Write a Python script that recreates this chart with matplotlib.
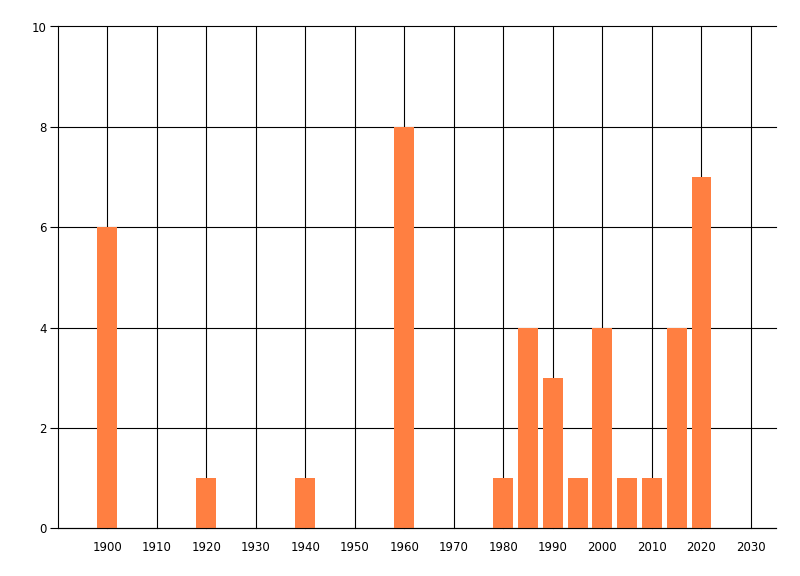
import matplotlib
matplotlib.use("Agg")
import matplotlib.pyplot as plt

years = [1900, 1920, 1940, 1960, 1980, 1985, 1990, 1995, 2000, 2005, 2010, 2015, 2020]
counts = [6, 1, 1, 8, 1, 4, 3, 1, 4, 1, 1, 4, 7]
x_ticks = list(range(1900, 2031, 10))
y_ticks = [0, 2, 4, 6, 8, 10]

plt.rcParams['font.family'] = ['DejaVu Sans']
fig = plt.figure(figsize=(8, 5.76), dpi=100)
ax = fig.add_axes([57.7 / 800, (576 - 528.3) / 576, (775.7 - 57.7) / 800, (528.3 - 26.5) / 576])

ax.bar(years, counts, width=4, color='#FF7F41', zorder=3)

ax.set_xlim(1890, 2035)
ax.set_ylim(0, 10)
ax.set_xticks(x_ticks)
ax.set_xticklabels([str(t) for t in x_ticks])
ax.set_yticks(y_ticks)
ax.set_yticklabels([str(t) for t in y_ticks])

ax.grid(True, color='black', linewidth=0.8, zorder=1)
for gl in ax.get_xgridlines() + ax.get_ygridlines():
    gl.set_clip_on(False)
for s in ['top', 'right']:
    ax.spines[s].set_visible(False)
for s in ['left', 'bottom']:
    ax.spines[s].set_linewidth(0.8)
    ax.spines[s].set_zorder(4)

ax.tick_params(axis='x', length=0, pad=9, labelsize=8.5, colors='black')
ax.tick_params(axis='y', length=6, width=0.8, pad=2, labelsize=8.5, colors='black')

fig.savefig('out.png', dpi=100)
